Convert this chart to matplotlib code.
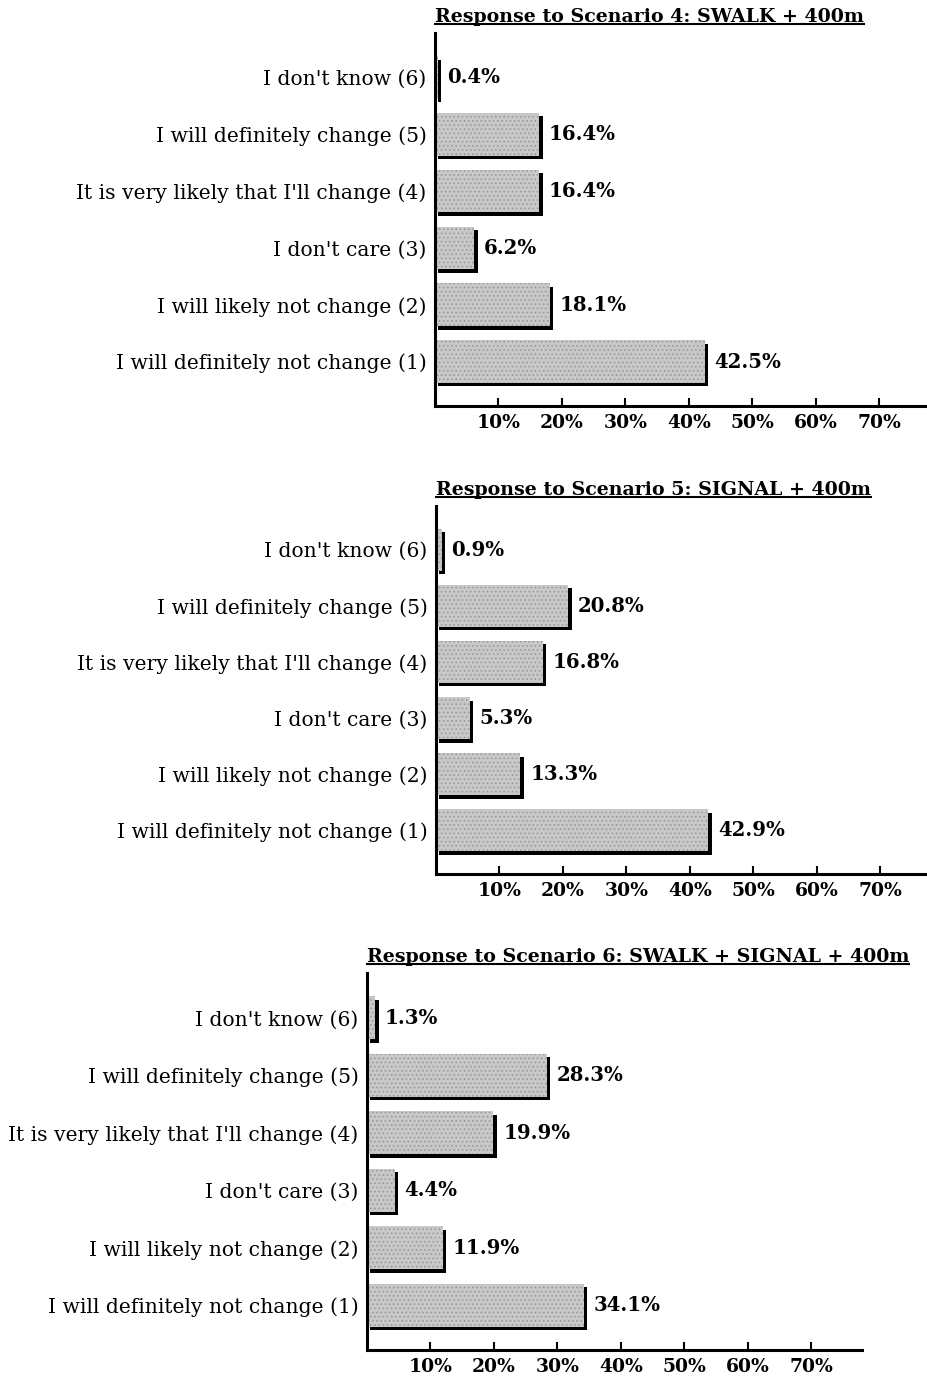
import matplotlib
matplotlib.use("Agg")
import matplotlib.pyplot as plt
from matplotlib.lines import Line2D
from matplotlib.transforms import offset_copy

# Response categories, listed bottom (1) to top (6)
categories = [
    "I will definitely not change (1)",
    "I will likely not change (2)",
    "I don't care (3)",
    "It is very likely that I'll change (4)",
    "I will definitely change (5)",
    "I don't know (6)",
]

scenario4 = [42.5, 18.1, 6.2, 16.4, 16.4, 0.4]
scenario5 = [42.9, 13.3, 5.3, 16.8, 20.8, 0.9]
scenario6 = [34.1, 11.9, 4.4, 19.9, 28.3, 1.3]

titles = [
    "Response to Scenario 4: SWALK + 400m",
    "Response to Scenario 5: SIGNAL + 400m",
    "Response to Scenario 6: SWALK + SIGNAL + 400m",
]

xticks = [10, 20, 30, 40, 50, 60, 70]
xticklabels = ["10%", "20%", "30%", "40%", "50%", "60%", "70%"]

W, H = 928, 1378
FONT = "DejaVu Serif"
plt.rcParams["font.family"] = [FONT]
plt.rcParams["hatch.color"] = "#959595"
plt.rcParams["hatch.linewidth"] = 0.6

fig = plt.figure(figsize=(W / 100, H / 100), dpi=100)


def rect(left, right, top, bottom):
    return [left / W, 1 - bottom / H, (right - left) / W, (bottom - top) / H]


# axes boxes in pixels: left, right, top, bottom
panels = [
    (scenario4, titles[0], rect(435, 928, 33, 406)),
    (scenario5, titles[1], rect(436, 929, 506, 874)),
    (scenario6, titles[2], rect(367, 862, 973, 1350)),
]

title_texts = []
for values, title, box in panels:
    ax = fig.add_axes(box)
    ypos = list(range(len(categories)))

    # solid black drop shadow, shifted right and down
    shadow_tr = offset_copy(ax.transData, fig=fig, x=3.5, y=-3.5, units="dots")
    ax.barh(ypos, values, height=0.75, color="black", edgecolor="none",
            transform=shadow_tr, zorder=1)
    # stippled grey bars on top
    ax.barh(ypos, values, height=0.75, color="#c8c8c8", edgecolor="#959595",
            linewidth=0, hatch="....", zorder=2)

    for y, v in zip(ypos, values):
        ax.annotate(f"{v:.1f}%", xy=(v, y), xytext=(7, 0),
                    textcoords="offset points", va="center", ha="left",
                    fontsize=14.2, fontweight="bold", family=FONT)

    ax.set_xlim(0, (box[2] * W) / 6.35)
    ax.set_ylim(-0.78, 5.78)
    ax.set_yticks(ypos)
    ax.set_yticklabels(categories, fontsize=14.6, family=FONT)
    ax.tick_params(axis="y", length=0, pad=6)
    ax.set_xticks(xticks)
    ax.set_xticklabels(xticklabels, fontsize=13.5, fontweight="bold",
                       family=FONT)
    ax.tick_params(axis="x", direction="in", length=6, width=1.5, pad=6)
    for side in ("top", "right"):
        ax.spines[side].set_visible(False)
    for side in ("left", "bottom"):
        ax.spines[side].set_linewidth(2.2)
        ax.spines[side].set_zorder(3)
    ax.set_facecolor("none")

    t = fig.text(box[0], box[1] + box[3] + 7 / H, title, ha="left",
                 va="bottom", fontsize=13.7, fontweight="bold", family=FONT)
    title_texts.append(t)

# underline each heading
fig.canvas.draw()
renderer = fig.canvas.get_renderer()
inv = fig.transFigure.inverted()
for t in title_texts:
    bb = t.get_window_extent(renderer)
    (x0, y0), (x1, _) = inv.transform([(bb.x0, bb.y0), (bb.x1, bb.y0)])
    fig.add_artist(Line2D([x0, x1], [y0 + 2 / H, y0 + 2 / H],
                          transform=fig.transFigure, color="black", lw=1.5))

fig.savefig("out.png", dpi=100, facecolor="white")
